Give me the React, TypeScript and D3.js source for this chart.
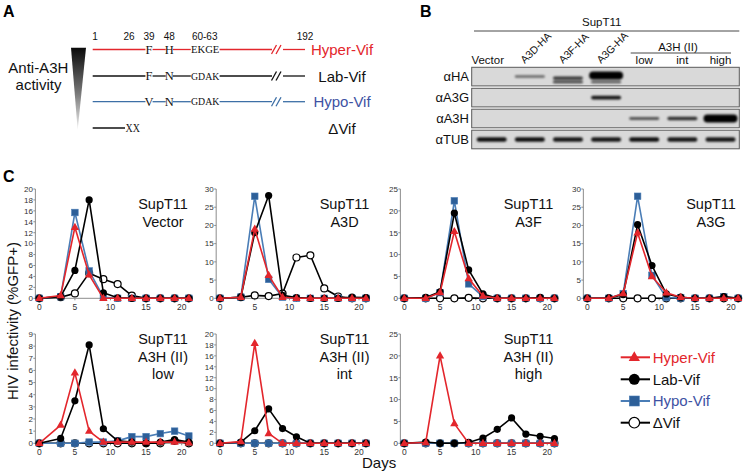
import React from "react";
import * as d3 from "d3";

// ---------- Panel C data ----------
const days = [0, 3, 5, 7, 9, 11, 13, 15, 17, 19, 21];
const panelTitles = [
  ["SupT11", "Vector"],
  ["SupT11", "A3D"],
  ["SupT11", "A3F"],
  ["SupT11", "A3G"],
  ["SupT11", "A3H (II)", "low"],
  ["SupT11", "A3H (II)", "int"],
  ["SupT11", "A3H (II)", "high"],
];
const yMax = [20, 30, 25, 30, 9, 20, 25];
const yStep = [2, 5, 5, 5, 1, 2, 5];
const xTicks = [0, 5, 10, 15, 20];

const hyperVif = [
  [0, 0.5, 13, 4.3, 0, 0, 0, 0, 0, 0, 0],
  [0, 0.3, 19, 6.3, 0.3, 0, 0, 0, 0, 0, 0],
  [0, 0, 1.3, 15.3, 4.5, 0.5, 0, 0, 0, 0, 0],
  [0, 0, 1.3, 18, 6, 1.5, 0.3, 0, 0, 0, 0],
  [0, 1.5, 5.8, 1, 0.1, 0.1, 0.1, 0.1, 0.1, 0.1, 0.05],
  [0, 0.3, 18.3, 1.8, 0, 0, 0, 0, 0, 0, 0],
  [0, 0.2, 20, 4.5, 0, 0, 0, 0, 0, 0, 0],
];
const labVif = [
  [0, 0.3, 5.1, 18, 1, 0.1, 0, 0, 0, 0, 0],
  [0, 0.3, 18, 28.2, 0.8, 0.2, 0, 0, 0, 0.3, 0.2],
  [0, 0.2, 1.5, 19.5, 6.5, 1, 0, 0, 0, 0.2, 0],
  [0, 0.1, 1, 20.2, 9, 1.2, 0.3, 0, 0, 0.5, 0],
  [0, 0.4, 3.5, 8.1, 1.2, 0.2, 0.1, 0, 0.1, 0.3, 0.1],
  [0, 0.2, 2.3, 6.3, 2.7, 1.2, 0, 0, 0, 0, 0],
  [0, 0.3, 0, 0, 0.2, 1.2, 3.2, 5.8, 2.1, 1.6, 1.1],
];
const hypoVif = [
  [0, 0.3, 15.7, 5, 0.2, 0, 0, 0, 0, 0, 0],
  [0, 0.3, 28, 5.2, 0.3, 0, 0, 0, 0, 0, 0],
  [0, 0, 1.3, 22.3, 3.3, 0.4, 0, 0, 0, 0, 0],
  [0, 0, 1.3, 28, 6.3, 0.2, 0.1, 0, 0, 0.4, 0],
  [0, 0, 0, 0.1, 0.1, 0.2, 0.55, 0.55, 0.8, 1, 0.6],
  [0, 0, 0, 0, 0, 0, 0, 0, 0, 0, 0],
  [0, 0, 0, 0, 0, 0, 0, 0, 0, 0, 0],
];
const deltaVif = [
  [0, 0.2, 0.9, 4.6, 3.5, 2.6, 0.5, 0, 0, 0, 0],
  [0, 0.3, 0.8, 0.6, 1.3, 11.2, 11.8, 2.7, 0.5, 0, 0],
  [0, 0, 0, 0, 0.1, 0, 0, 0, 0, 0, 0],
  [0, 0, 0, 0, 0, 0, 0, 0, 0, 0, 0],
  [0, 0, 0, 0, 0, 0, 0, 0, 0, 0.2, 0],
  [0, 0, 0, 0, 0, 0, 0, 0, 0, 0, 0],
  [0, 0, 0, 0, 0, 0, 0, 0, 0, 0, 0],
];
const seriesNames = ["Hyper-Vif", "Lab-Vif", "Hypo-Vif", "ΔVif"];

// ---------- Panel A data ----------
const residueNumbers = ["1", "26", "39", "48", "60-63", "192"];
const variantNames = ["Hyper-Vif", "Lab-Vif", "Hypo-Vif", "ΔVif"];
const residue39 = ["F", "F", "V"];
const residue48 = ["H", "N", "N"];
const residue60 = ["EKGE", "GDAK", "GDAK"];

// ---------- Panel B data ----------
const laneLabels = ["Vector", "A3D-HA", "A3F-HA", "A3G-HA", "low", "int", "high"];
const blotRows = ["αHA", "αA3G", "αA3H", "αTUB"];
const bandHA = [0, 0.35, 0.65, 1, 0, 0, 0];
const bandHA2 = [0, 0, 0.6, 0.45, 0, 0, 0];
const bandA3G = [0, 0, 0, 0.85, 0, 0, 0];
const bandA3H = [0, 0, 0, 0, 0.45, 0.7, 1];
const bandTUB = [0.9, 0.9, 0.85, 0.85, 0.9, 0.85, 0.85];

const RED = "#e3262c";
const BLUE = "#2d5f98";
const BLUE_LINE = "#4a7db6";
const BLUE_TEXT = "#3e52a3";
const SANS = "'Liberation Sans', Arial, sans-serif";
const SERIF = "'Liberation Serif', 'Times New Roman', serif";

const colX0 = [39.3, 220, 404.3, 587.3];
const colX20 = [181.7, 359, 547.3, 731];
const titleX = [163, 344.5, 528.5, 711];
const rowY0 = [298.3, 443.3];
const rowYTop = [189, 334];

function Marker({ kind, x, y, big }: { kind: number; x: number; y: number; big?: boolean }) {
  if (kind === 0) {
    const p = d3.symbol().type(d3.symbolTriangle).size(big ? 55 : 30)();
    return <path d={p as string} transform={`translate(${x},${y + (big ? 0.5 : 0.3)})`} fill={RED} />;
  }
  if (kind === 1) {
    return <circle cx={x} cy={y} r={big ? 5.5 : 3.6} fill="#000" />;
  }
  if (kind === 2) {
    const s = big ? 10 : 6.6;
    return <rect x={x - s / 2} y={y - s / 2} width={s} height={s} fill={BLUE} stroke={BLUE_LINE} strokeWidth={0.6} />;
  }
  return <circle cx={x} cy={y} r={big ? 5.3 : 3.5} fill="#fff" stroke="#000" strokeWidth={1.2} />;
}

function Panel({ i }: { i: number }) {
  const row = i < 4 ? 0 : 1;
  const col = i < 4 ? i : i - 4;
  const x = d3.scaleLinear().domain([0, 20]).range([colX0[col], colX20[col]]);
  const y = d3.scaleLinear().domain([0, yMax[i]]).range([rowY0[row], rowYTop[row]]);
  const yt = d3.range(0, yMax[i] + 0.001, yStep[i]);
  const axisX = x(-0.55);
  const line = d3
    .line<number>()
    .x((_, k) => x(days[k]))
    .y((v) => y(v));
  const all = [hyperVif[i], labVif[i], hypoVif[i], deltaVif[i]];
  const order = [3, 2, 1, 0];
  const lineColor = [RED, "#000", BLUE_LINE, "#000"];
  const titles = panelTitles[i];
  const tb = row === 0 ? [209, 227] : [344, 361.5, 379];
  return (
    <g>
      <line x1={axisX} x2={axisX} y1={y(yMax[i])} y2={y(0)} stroke="#8c8c8c" strokeWidth={1} />
      <line x1={axisX} x2={x(21.3)} y1={y(0)} y2={y(0)} stroke="#8c8c8c" strokeWidth={1} />
      {yt.map((t) => (
        <g key={t}>
          <line x1={axisX - 2} x2={axisX} y1={y(t)} y2={y(t)} stroke="#8c8c8c" />
          <text x={axisX - 2.5} y={y(t) + 2.8} textAnchor="end" fontSize={8} fill="#333" fontFamily={SANS}>
            {t}
          </text>
        </g>
      ))}
      {xTicks.map((t) => (
        <g key={t}>
          <line x1={x(t)} x2={x(t)} y1={y(0)} y2={y(0) + 2} stroke="#8c8c8c" />
          <text x={x(t)} y={y(0) + 11.5} textAnchor="middle" fontSize={8.5} fill="#333" fontFamily={SANS}>
            {t}
          </text>
        </g>
      ))}
      {order.map((s) => (
        <g key={s}>
          <path d={line(all[s]) as string} fill="none" stroke={lineColor[s]} strokeWidth={1.6} strokeLinejoin="round" />
          {all[s].map((v, k) => (
            <Marker key={k} kind={s} x={x(days[k])} y={y(v)} />
          ))}
        </g>
      ))}
      {titles.map((t, k) => (
        <text key={k} x={titleX[col]} y={tb[k]} textAnchor="middle" fontSize={14.5} fontFamily={SANS} fill="#111">
          {t}
        </text>
      ))}
    </g>
  );
}

function PanelA() {
  const rowsY = [49.5, 76, 101.7, 128];
  const colors = [RED, "#111", "#3d6fa6", "#111"];
  const textColors = [RED, "#111", BLUE_TEXT, "#111"];
  const numX = [95, 129, 149, 169.3, 204.7, 305];
  const cw = 7.2;
  return (
    <g>
      <text x={3} y={17.3} fontSize={16} fontWeight="bold" fontFamily={SANS}>A</text>
      <defs>
        <linearGradient id="tri" x1="0" y1="0" x2="0" y2="1">
          <stop offset="0" stopColor="#0a0a0a" />
          <stop offset="0.55" stopColor="#777" />
          <stop offset="1" stopColor="#f2f2f2" />
        </linearGradient>
      </defs>
      <path d="M71,47.7 L86,47.7 L77.7,130 Z" fill="url(#tri)" />
      <text x={38.3} y={72.7} textAnchor="middle" fontSize={15} fontFamily={SANS} fill="#111">Anti-A3H</text>
      <text x={38.5} y={90} textAnchor="middle" fontSize={15} fontFamily={SANS} fill="#111">activity</text>
      {residueNumbers.map((n, k) => (
        <text key={n} x={numX[k]} y={40} textAnchor="middle" fontSize={10} fontFamily={SANS} fill="#111">
          {n}
        </text>
      ))}
      {[0, 1, 2].map((r) => {
        const yy = rowsY[r];
        const c = colors[r];
        const segs = [
          [92.7, 149 - cw / 2],
          [149 + cw / 2, 169.3 - cw / 2],
          [169.3 + cw / 2, 190.8],
          [190.8 + 4 * cw, 272],
          [283, 305],
        ];
        return (
          <g key={r}>
            {segs.map((s, k) => (
              <line key={k} x1={s[0]} x2={s[1]} y1={yy} y2={yy} stroke={c} strokeWidth={1.3} />
            ))}
            <line x1={271.5} x2={276.5} y1={yy + 4.5} y2={yy - 4.5} stroke={c} strokeWidth={1.3} />
            <line x1={276} x2={281} y1={yy + 4.5} y2={yy - 4.5} stroke={c} strokeWidth={1.3} />
            <text x={149} y={yy + 4} textAnchor="middle" fontSize={12.5} fontFamily={SERIF} fill="#111">{residue39[r]}</text>
            <text x={169.3} y={yy + 4} textAnchor="middle" fontSize={12.5} fontFamily={SERIF} fill="#111">{residue48[r]}</text>
            <text x={191} y={yy + 3.6} fontSize={11} fontFamily={SERIF} fill="#111" textLength={4 * cw - 0.5} lengthAdjust="spacingAndGlyphs">{residue60[r]}</text>
          </g>
        );
      })}
      <line x1={92.7} x2={125} y1={rowsY[3]} y2={rowsY[3]} stroke="#111" strokeWidth={1.3} />
      <text x={125.5} y={rowsY[3] + 4} fontSize={12} fontFamily={SERIF} fill="#111" textLength={14.4} lengthAdjust="spacingAndGlyphs">XX</text>
      {variantNames.map((n, k) => (
        <text key={n} x={342} y={rowsY[k] + 5.5} textAnchor="middle" fontSize={15} fontFamily={SANS} fill={textColors[k]}>
          {n}
        </text>
      ))}
    </g>
  );
}

function PanelB() {
  const lane = d3.scaleLinear().domain([0, 6]).range([491.7, 720.5]);
  const stripTop = [67.3, 88.3, 109.2, 130.2];
  const stripH = 18.6;
  const boxX0 = 471.7;
  const boxX1 = 739.3;
  const bands = [bandHA, bandA3G, bandA3H, bandTUB];
  return (
    <g>
      <defs>
        <filter id="blur" x="-20%" y="-100%" width="140%" height="300%">
          <feGaussianBlur stdDeviation="0.9" />
        </filter>
      </defs>
      <text x={420} y={16.8} fontSize={16} fontWeight="bold" fontFamily={SANS}>B</text>
      <text x={601.7} y={26} textAnchor="middle" fontSize={11.5} fontFamily={SANS} fill="#111">SupT11</text>
      <line x1={474} x2={739.3} y1={31} y2={31} stroke="#333" strokeWidth={0.9} />
      <text x={678} y={50.5} textAnchor="middle" fontSize={11.5} fontFamily={SANS} fill="#111">A3H (II)</text>
      <line x1={630.7} x2={731} y1={53} y2={53} stroke="#333" strokeWidth={0.9} />
      {laneLabels.map((l, k) => {
        if (k === 0)
          return (
            <text key={l} x={lane(k) - 4} y={64} textAnchor="middle" fontSize={11.5} fontFamily={SANS} fill="#111">{l}</text>
          );
        if (k <= 3)
          return (
            <text key={l} transform={`translate(${lane(k) - 5},${64}) rotate(-45)`} fontSize={10.5} fontFamily={SANS} fill="#111">{l}</text>
          );
        return (
          <text key={l} x={lane(k)} y={63.5} textAnchor="middle" fontSize={11.5} fontFamily={SANS} fill="#111">{l}</text>
        );
      })}
      {blotRows.map((r, ri) => {
        const top = stripTop[ri];
        const mid = top + stripH / 2;
        return (
          <g key={r}>
            <rect x={boxX0} y={top} width={boxX1 - boxX0} height={stripH} fill="#d9d9d9" stroke="#5a5a5a" strokeWidth={1} />
            <text x={469} y={mid + 4.6} textAnchor="end" fontSize={13} fontFamily={SANS} fill="#111">{r}</text>
            <g filter="url(#blur)">
              {bands[ri].map((v, k) => {
                if (v <= 0) return null;
                const big = v >= 1;
                const h = ri === 3 ? 4.6 : big ? 8 : 1.6 + 2.6 * v;
                const w = big ? 34 : 30;
                const cy = ri === 0 && k === 3 ? mid - 1 : ri === 0 && k === 2 ? mid + 1.5 : mid;
                return (
                  <rect key={k} x={lane(k) - w / 2} y={cy - h / 2} width={w} height={h} rx={h / 2}
                    fill="#050505" opacity={0.3 + 0.7 * v} />
                );
              })}
              {ri === 0 &&
                bandHA2.map((v, k) =>
                  v > 0 ? (
                    <rect key={"b" + k} x={lane(k) - 15} y={mid + 4.2} width={30} height={2.4} rx={1.2}
                      fill="#050505" opacity={0.3 + 0.7 * v} />
                  ) : null
                )}
            </g>
          </g>
        );
      })}
    </g>
  );
}

function Legend() {
  const ys = [357.3, 379.3, 401, 422.7];
  const lineColor = [RED, "#000", BLUE_LINE, "#000"];
  const textColor = [RED, "#111", BLUE_TEXT, "#111"];
  return (
    <g>
      {seriesNames.map((n, k) => (
        <g key={n}>
          <line x1={620.7} x2={650} y1={ys[k]} y2={ys[k]} stroke={lineColor[k]} strokeWidth={2} />
          <Marker kind={k} x={634.3} y={ys[k]} big />
          <text x={652.7} y={ys[k] + 5.3} fontSize={15} fontFamily={SANS} fill={textColor[k]}>{n}</text>
        </g>
      ))}
    </g>
  );
}

export default function App() {
  return (
    <svg width={743} height={476} style={{ position: "absolute", left: 0, top: 0, background: "#fff" }}>
      <rect width={743} height={476} fill="#fff" />
      <PanelA />
      <PanelB />
      <text x={3} y={181.7} fontSize={16} fontWeight="bold" fontFamily={SANS}>C</text>
      {d3.range(7).map((i) => (
        <Panel key={i} i={i} />
      ))}
      <text transform="translate(18,321) rotate(-90)" textAnchor="middle" fontSize={15} fontFamily={SANS} fill="#111">
        HIV infectivity (%GFP+)
      </text>
      <text x={362} y={468} fontSize={15} fontFamily={SANS} fill="#111">Days</text>
      <Legend />
    </svg>
  );
}
